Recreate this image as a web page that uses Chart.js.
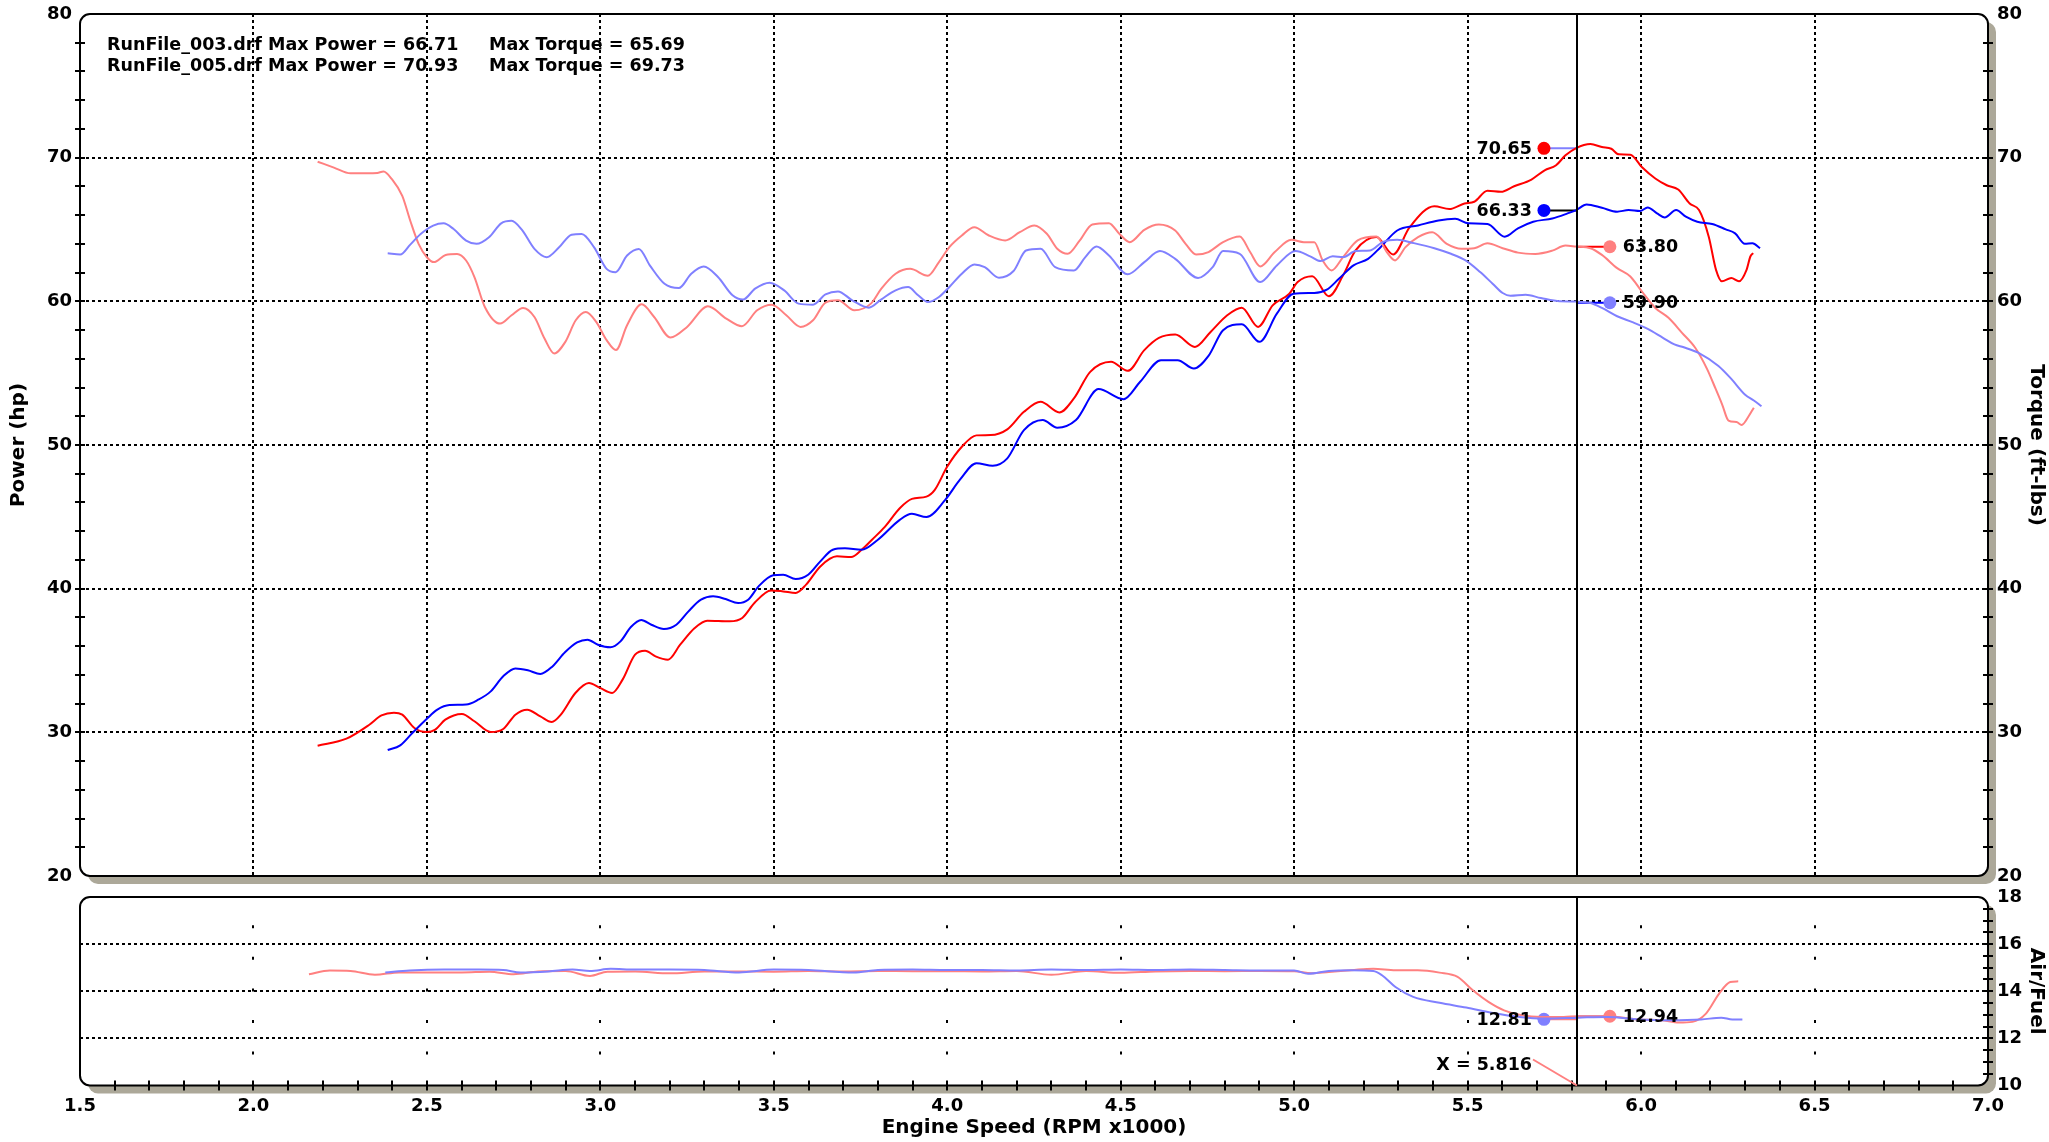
<!DOCTYPE html>
<html>
<head>
<meta charset="utf-8">
<script src="https://cdn.jsdelivr.net/npm/chart.js@4.4.1/dist/chart.umd.min.js"></script>
<style>
html,body{margin:0;padding:0;background:#fff;}
#wrap{position:relative;width:2049px;height:1142px;overflow:hidden;}
#wrap canvas{position:absolute;left:0;top:0;width:2049px;height:1142px;}
</style>
</head>
<body>
<div id="wrap">
<canvas id="mainChart" width="2049" height="1142"></canvas>
<canvas id="afrChart" width="2049" height="1142"></canvas>
</div>
<script>
// ---------------- DATA ----------------
const runNames = ['RunFile_003.drf', 'RunFile_005.drf'];
const maxPower = [66.71, 70.93];
const maxTorque = [65.69, 69.73];

const cursorRpm = 5.816;
const markerRpmLeft = 5.72;
const markerRpmRight = 5.91;
const cursorPower = [66.33, 70.65];   // 003, 005
const cursorTorque = [59.90, 63.80];  // 003, 005
const cursorAfr = [12.81, 12.94];     // 003, 005

const xTicks = {min: 1.5, max: 7.0, step: 0.5};
const powerAxis = {min: 20, max: 80, step: 10};
const afrAxis = {min: 10, max: 18, step: 2};

// RunFile_003 power (hp)
const rpm003Power = [2.387,2.423,2.458,2.500,2.530,2.565,2.613,2.648,2.684,2.720,2.755,2.791,2.827,2.862,2.898,2.933,2.963,2.993,3.029,3.058,3.088,3.118,3.147,3.183,3.219,3.254,3.290,3.325,3.361,3.397,3.426,3.456,3.498,3.527,3.563,3.599,3.634,3.670,3.705,3.753,3.800,3.863,3.898,3.940,3.994,4.036,4.084,4.131,4.173,4.221,4.275,4.317,4.371,4.436,4.508,4.556,4.616,4.664,4.711,4.753,4.795,4.849,4.900,4.950,4.998,5.058,5.094,5.129,5.171,5.213,5.249,5.297,5.357,5.416,5.464,5.502,5.557,5.607,5.645,5.689,5.744,5.788,5.813,5.843,5.887,5.931,5.964,5.997,6.019,6.046,6.068,6.101,6.129,6.162,6.205,6.244,6.271,6.299,6.321,6.343];
const power003 = [28.77,29.09,29.95,30.95,31.58,31.90,31.93,32.27,32.85,33.90,34.45,34.32,34.06,34.59,35.57,36.26,36.45,36.10,35.92,36.33,37.33,37.82,37.49,37.19,37.49,38.42,39.23,39.47,39.28,39.00,39.23,40.16,40.93,40.97,40.67,40.97,41.90,42.71,42.81,42.71,43.41,44.79,45.21,44.98,46.18,47.57,48.73,48.56,49.07,51.04,51.74,51.20,51.74,53.89,53.19,54.40,55.90,55.90,55.32,56.20,57.99,58.40,57.18,59.14,60.53,60.58,60.81,61.57,62.50,62.96,63.77,64.93,65.28,65.63,65.74,65.43,65.38,64.50,65.08,65.54,65.77,66.12,66.35,66.74,66.51,66.24,66.35,66.28,66.54,66.12,65.84,66.35,65.89,65.54,65.38,65.01,64.73,64.00,64.04,63.70];

// RunFile_005 power (hp)
const rpm005Power = [2.185,2.268,2.334,2.369,2.405,2.429,2.464,2.500,2.524,2.553,2.601,2.637,2.684,2.720,2.755,2.789,2.827,2.860,2.886,2.928,2.967,2.999,3.034,3.064,3.100,3.129,3.159,3.195,3.230,3.272,3.308,3.373,3.409,3.444,3.492,3.527,3.563,3.593,3.634,3.682,3.723,3.753,3.783,3.820,3.863,3.898,3.940,3.964,4.000,4.042,4.084,4.125,4.173,4.221,4.269,4.323,4.365,4.412,4.472,4.520,4.568,4.610,4.657,4.714,4.759,4.807,4.849,4.896,4.938,4.986,5.010,5.052,5.100,5.141,5.177,5.237,5.285,5.333,5.404,5.447,5.491,5.519,5.557,5.596,5.634,5.684,5.722,5.755,5.782,5.813,5.854,5.887,5.914,5.936,5.969,6.002,6.041,6.074,6.107,6.140,6.167,6.195,6.216,6.233,6.260,6.282,6.304,6.315,6.323];
const power005 = [29.07,29.56,30.53,31.18,31.37,31.23,30.30,30.02,30.19,30.88,31.28,30.77,30.02,30.23,31.23,31.58,31.11,30.72,31.23,32.74,33.43,33.09,32.74,33.67,35.41,35.68,35.29,35.06,36.10,37.26,37.77,37.73,37.96,39.00,39.88,39.81,39.70,40.28,41.55,42.25,42.20,42.71,43.41,44.30,45.60,46.25,46.41,46.88,48.50,49.88,50.67,50.69,51.09,52.31,53.01,52.27,53.24,55.09,55.79,55.16,56.60,57.45,57.69,56.83,57.87,59.03,59.56,58.22,59.72,60.53,61.34,61.74,60.35,61.81,63.54,64.47,63.26,65.16,66.62,66.42,66.81,66.93,67.69,67.62,68.01,68.48,69.12,69.47,70.16,70.67,70.95,70.74,70.62,70.23,70.21,69.35,68.55,68.08,67.78,66.81,66.35,64.50,62.19,61.39,61.62,61.39,62.19,63.12,63.35];

// RunFile_003 torque (ft-lbs)
const rpm003Torque = [2.387,2.423,2.452,2.482,2.518,2.548,2.577,2.613,2.643,2.679,2.714,2.744,2.774,2.810,2.845,2.881,2.917,2.946,2.982,3.018,3.044,3.077,3.111,3.143,3.185,3.226,3.262,3.298,3.339,3.381,3.411,3.446,3.488,3.530,3.571,3.613,3.649,3.685,3.726,3.774,3.810,3.851,3.887,3.916,3.944,3.976,4.006,4.042,4.078,4.108,4.149,4.191,4.227,4.269,4.311,4.365,4.398,4.430,4.466,4.520,4.568,4.613,4.657,4.723,4.765,4.795,4.843,4.902,4.950,5.004,5.046,5.076,5.111,5.141,5.177,5.219,5.255,5.297,5.345,5.404,5.452,5.494,5.536,5.572,5.601,5.623,5.667,5.711,5.766,5.813,5.854,5.887,5.931,5.975,6.019,6.063,6.096,6.123,6.167,6.223,6.260,6.300,6.325,6.347];
const torque003 = [63.35,63.26,63.95,64.69,65.27,65.43,65.03,64.23,64.00,64.46,65.43,65.61,64.97,63.65,63.07,63.76,64.64,64.69,63.76,62.26,62.03,63.19,63.65,62.49,61.22,60.92,61.92,62.42,61.69,60.42,60.12,60.88,61.29,60.76,59.84,59.77,60.48,60.69,60.07,59.56,60.14,60.76,60.99,60.42,59.95,60.30,61.00,61.92,62.57,62.38,61.64,62.11,63.54,63.66,62.38,62.15,63.08,63.82,63.19,61.88,62.73,63.50,62.96,61.62,62.38,63.50,63.31,61.34,62.50,63.50,63.13,62.80,63.13,63.08,63.50,63.54,64.12,64.28,64.05,63.70,63.31,62.85,62.04,61.23,60.58,60.39,60.46,60.23,60.00,59.98,59.88,59.54,58.96,58.55,58.08,57.46,57.00,56.80,56.40,55.50,54.60,53.50,53.10,52.70];

// RunFile_005 torque (ft-lbs)
const rpm005Torque = [2.185,2.232,2.280,2.327,2.357,2.375,2.399,2.429,2.452,2.476,2.500,2.520,2.554,2.587,2.613,2.637,2.667,2.711,2.744,2.777,2.810,2.839,2.867,2.899,2.929,2.958,2.988,3.018,3.045,3.077,3.119,3.155,3.202,3.250,3.310,3.363,3.408,3.452,3.494,3.536,3.577,3.613,3.649,3.685,3.732,3.780,3.810,3.851,3.893,3.944,3.976,4.006,4.042,4.078,4.120,4.167,4.209,4.251,4.287,4.317,4.347,4.382,4.418,4.466,4.496,4.526,4.568,4.610,4.657,4.687,4.717,4.753,4.795,4.843,4.873,4.902,4.944,4.992,5.028,5.058,5.082,5.108,5.141,5.183,5.237,5.267,5.291,5.321,5.357,5.398,5.440,5.482,5.519,5.557,5.601,5.645,5.695,5.744,5.782,5.813,5.854,5.887,5.931,5.969,6.002,6.041,6.079,6.118,6.156,6.190,6.215,6.234,6.252,6.275,6.290,6.310,6.325];
const torque005 = [69.72,69.31,68.91,68.91,68.94,69.03,68.50,67.34,65.61,64.00,63.07,62.73,63.23,63.30,62.84,61.69,59.61,58.45,59.03,59.54,58.91,57.41,56.37,57.18,58.68,59.26,58.57,57.30,56.61,58.34,59.79,58.91,57.48,58.22,59.65,58.80,58.27,59.38,59.77,59.03,58.22,58.68,59.91,60.07,59.38,59.84,60.88,61.92,62.26,61.78,62.73,63.77,64.58,65.16,64.58,64.24,64.81,65.28,64.70,63.66,63.31,64.24,65.35,65.44,64.70,64.12,64.98,65.35,64.93,64.00,63.26,63.43,64.12,64.51,63.43,62.43,63.43,64.28,64.12,64.12,62.85,62.15,63.08,64.24,64.51,63.43,62.85,63.77,64.47,64.81,64.00,63.66,63.70,64.04,63.70,63.39,63.30,63.53,63.88,63.81,63.70,63.23,62.31,61.73,60.69,59.54,58.85,57.81,56.77,55.30,53.90,52.80,51.70,51.60,51.40,52.00,52.60];

// RunFile_003 air/fuel
const rpm003Afr = [2.38,2.45,2.55,2.65,2.72,2.77,2.85,2.92,2.97,3.03,3.10,3.20,3.30,3.40,3.50,3.60,3.73,3.80,3.90,4.00,4.10,4.20,4.30,4.40,4.50,4.60,4.70,4.80,4.90,5.00,5.04,5.10,5.164,5.228,5.253,5.292,5.343,5.419,5.496,5.573,5.650,5.720,5.818,5.904,5.994,6.083,6.173,6.231,6.263,6.292];
const afr003 = [14.80,14.88,14.92,14.92,14.90,14.80,14.84,14.92,14.86,14.95,14.92,14.92,14.90,14.80,14.92,14.90,14.80,14.90,14.92,14.90,14.90,14.88,14.92,14.90,14.92,14.90,14.92,14.90,14.88,14.88,14.74,14.86,14.89,14.86,14.68,14.18,13.76,13.51,13.31,13.08,12.91,12.84,12.88,12.91,12.80,12.77,12.80,12.88,12.80,12.80];

// RunFile_005 air/fuel
const rpm005Afr = [2.16,2.22,2.28,2.35,2.42,2.50,2.60,2.68,2.75,2.82,2.90,2.97,3.02,3.10,3.20,3.30,3.40,3.50,3.60,3.70,3.80,3.90,4.00,4.10,4.20,4.30,4.40,4.50,4.60,4.70,4.80,4.90,5.00,5.05,5.10,5.164,5.228,5.292,5.356,5.419,5.471,5.515,5.560,5.605,5.656,5.714,5.777,5.818,5.904,5.994,6.058,6.109,6.148,6.187,6.225,6.257,6.280];
const afr005 = [14.72,14.88,14.86,14.70,14.80,14.80,14.80,14.83,14.72,14.84,14.86,14.65,14.83,14.84,14.76,14.84,14.84,14.83,14.86,14.84,14.86,14.85,14.85,14.84,14.86,14.70,14.86,14.78,14.84,14.86,14.85,14.86,14.85,14.76,14.82,14.89,14.96,14.89,14.89,14.79,14.61,14.04,13.55,13.19,12.98,12.91,12.91,12.94,12.94,12.80,12.77,12.67,12.70,13.05,13.90,14.39,14.42];

// ---------------- STYLE ----------------
const FONT = '"DejaVu Sans", Verdana, sans-serif';
const SHADOW = '#aca899';
const RED = '#ff0000', BLUE = '#0000ff', LRED = '#ff8080', LBLUE = '#8080ff';

function pts(xs, ys) { return xs.map((x, i) => ({x: x, y: ys[i]})); }

function rr(ctx, x, y, w, h, r) {
  ctx.beginPath();
  ctx.moveTo(x + r, y);
  ctx.arcTo(x + w, y, x + w, y + h, r);
  ctx.arcTo(x + w, y + h, x, y + h, r);
  ctx.arcTo(x, y + h, x, y, r);
  ctx.arcTo(x, y, x + w, y, r);
  ctx.closePath();
}

function curve(label, xs, ys, color, yAxisID) {
  return {label, data: pts(xs, ys), borderColor: color, borderWidth: 2,
    pointRadius: 0, cubicInterpolationMode: 'monotone', fill: false, yAxisID};
}

function marker(value, side, dotColor, linkColor, yAxisID) {
  const mx = side === 'left' ? markerRpmLeft : markerRpmRight;
  return {data: [{x: mx, y: value}, {x: cursorRpm, y: value}], borderColor: linkColor,
    borderWidth: 2, pointRadius: [6.5, 0], pointBackgroundColor: dotColor,
    pointBorderWidth: 0, pointBorderColor: dotColor, tension: 0, fill: false,
    yAxisID, markerLabel: value.toFixed(2), markerSide: side};
}

const framePlugin = {
  id: 'frame',
  beforeDraw(chart) {
    const a = chart.chartArea, ctx = chart.ctx;
    const w = a.right - a.left, h = a.bottom - a.top;
    ctx.save();
    ctx.fillStyle = SHADOW; rr(ctx, a.left + 8, a.top + 8, w, h, 10); ctx.fill();
    ctx.fillStyle = '#fff'; rr(ctx, a.left, a.top, w, h, 10); ctx.fill();
    ctx.restore();
  },
  afterDatasetsDraw(chart, args, opts) {
    const a = chart.chartArea, ctx = chart.ctx;
    const w = a.right - a.left, h = a.bottom - a.top;
    ctx.save();
    // cursor line
    const cx = Math.round(chart.scales.x.getPixelForValue(cursorRpm));
    ctx.strokeStyle = '#000'; ctx.lineWidth = 2;
    ctx.beginPath(); ctx.moveTo(cx, a.top); ctx.lineTo(cx, a.bottom); ctx.stroke();
    // frame
    rr(ctx, a.left, a.top, w, h, 10); ctx.lineWidth = 2; ctx.stroke();
    // minor ticks
    ctx.lineWidth = 2;
    (opts.ticks || []).forEach(t => {
      const sc = chart.scales[t.scale];
      for (let v = t.from; v <= t.to + 1e-9; v += t.step) {
        const p = Math.round(sc.getPixelForValue(v));
        ctx.beginPath();
        if (t.edge === 'left') { ctx.moveTo(a.left - 5, p); ctx.lineTo(a.left + 5, p); }
        else if (t.edge === 'right') { ctx.moveTo(a.right - 5, p); ctx.lineTo(a.right + 5, p); }
        else { ctx.moveTo(p, a.bottom - 5); ctx.lineTo(p, a.bottom + 5); }
        ctx.stroke();
      }
    });
    // marker labels
    ctx.fillStyle = '#000';
    ctx.font = 'bold 17.5px ' + FONT;
    ctx.textBaseline = 'middle';
    chart.data.datasets.forEach((ds, i) => {
      if (!ds.markerLabel) return;
      const p = chart.getDatasetMeta(i).data[0];
      if (ds.markerSide === 'left') { ctx.textAlign = 'right'; ctx.fillText(ds.markerLabel, p.x - 12, p.y + 1); }
      else { ctx.textAlign = 'left'; ctx.fillText(ds.markerLabel, p.x + 13, p.y + 1); }
    });
    if (opts.extra) opts.extra(chart, ctx, cx);
    ctx.restore();
  }
};

const tickFont = {family: FONT, size: 18, weight: 'bold'};
const titleFont = {family: FONT, size: 20, weight: 'bold'};
function gridColor(lo, hi) {
  return c => (c.tick && (Math.abs(c.tick.value - lo) < 1e-6 || Math.abs(c.tick.value - hi) < 1e-6)) ? 'rgba(0,0,0,0)' : '#000';
}
function fixV(width) {
  return s => { s.width = width; s.paddingTop = 0; s.paddingBottom = 0; };
}
function fixH(height) {
  return s => { s.height = height; s.paddingLeft = 0; s.paddingRight = 0; };
}

// ---------------- MAIN CHART ----------------
new Chart(document.getElementById('mainChart'), {
  type: 'line',
  data: {
    datasets: [
      curve('RunFile_003 Torque', rpm003Torque, torque003, LBLUE, 'y'),
      curve('RunFile_005 Torque', rpm005Torque, torque005, LRED, 'y'),
      curve('RunFile_003 Power', rpm003Power, power003, BLUE, 'y'),
      curve('RunFile_005 Power', rpm005Power, power005, RED, 'y'),
      marker(cursorPower[1], 'left', RED, LBLUE, 'y'),
      marker(cursorPower[0], 'left', BLUE, '#000', 'y'),
      marker(cursorTorque[1], 'right', LRED, RED, 'y'),
      marker(cursorTorque[0], 'right', LBLUE, BLUE, 'y')
    ]
  },
  options: {
    responsive: false, animation: false, devicePixelRatio: 1,
    layout: {padding: {top: 14, left: 0, right: 0, bottom: 0}},
    plugins: {
      legend: {display: false}, tooltip: {enabled: false},
      frame: {
        ticks: [
          {scale: 'y', edge: 'left', from: 22, to: 78, step: 2},
          {scale: 'y', edge: 'right', from: 22, to: 78, step: 2}
        ],
        extra: (chart, ctx) => {
          ctx.font = 'bold 17.5px ' + FONT;
          ctx.textAlign = 'left'; ctx.textBaseline = 'middle'; ctx.fillStyle = '#000';
          const ys = [45, 66];
          for (let i = 0; i < 2; i++) {
            ctx.fillText(runNames[i] + ' Max Power = ' + maxPower[i].toFixed(2), 107, ys[i]);
            ctx.fillText('Max Torque = ' + maxTorque[i].toFixed(2), 489, ys[i]);
          }
        }
      }
    },
    scales: {
      x: {type: 'linear', min: xTicks.min, max: xTicks.max,
        afterFit: fixH(1142 - 876),
        ticks: {display: false, stepSize: xTicks.step},
        grid: {color: gridColor(xTicks.min, xTicks.max), lineWidth: 2, drawTicks: false},
        border: {display: false, dash: [3, 3]}},
      y: {position: 'left', min: powerAxis.min, max: powerAxis.max,
        afterFit: fixV(80),
        ticks: {stepSize: powerAxis.step, padding: 8, font: tickFont, color: '#000'},
        grid: {color: gridColor(powerAxis.min, powerAxis.max), lineWidth: 2, drawTicks: false},
        border: {display: false, dash: [3, 3]},
        title: {display: true, text: 'Power (hp)', font: titleFont, color: '#000', padding: {top: 7, bottom: 0}}},
      y2: {position: 'right', min: powerAxis.min, max: powerAxis.max,
        afterFit: fixV(61),
        ticks: {stepSize: powerAxis.step, padding: 9, font: tickFont, color: '#000'},
        grid: {drawOnChartArea: false, drawTicks: false},
        border: {display: false},
        title: {display: true, text: 'Torque (ft-lbs)', font: titleFont, color: '#000', padding: {top: 1, bottom: 0}}}
    }
  },
  plugins: [framePlugin]
});

// ---------------- AIR/FUEL CHART ----------------
new Chart(document.getElementById('afrChart'), {
  type: 'line',
  data: {
    datasets: [
      curve('RunFile_003 Air/Fuel', rpm003Afr, afr003, LBLUE, 'afr'),
      curve('RunFile_005 Air/Fuel', rpm005Afr, afr005, LRED, 'afr'),
      marker(cursorAfr[0], 'left', LBLUE, LRED, 'afr'),
      marker(cursorAfr[1], 'right', LRED, LBLUE, 'afr')
    ]
  },
  options: {
    responsive: false, animation: false, devicePixelRatio: 1,
    layout: {padding: {top: 897, left: 80, right: 0, bottom: 0}},
    plugins: {
      legend: {display: false}, tooltip: {enabled: false},
      frame: {
        ticks: [
          {scale: 'x', edge: 'bottom', from: 1.6, to: 6.9, step: 0.1},
          {scale: 'afr', edge: 'right', from: 10.5, to: 17.5, step: 0.5}
        ],
        extra: (chart, ctx, cx) => {
          const a = chart.chartArea;
          ctx.strokeStyle = LRED; ctx.lineWidth = 2;
          ctx.beginPath(); ctx.moveTo(cx - 44, a.bottom - 26); ctx.lineTo(cx, a.bottom); ctx.stroke();
          ctx.fillStyle = '#000'; ctx.font = 'bold 17.5px ' + FONT;
          ctx.textAlign = 'right'; ctx.textBaseline = 'middle';
          ctx.fillText('X = ' + cursorRpm.toFixed(3), cx - 45, a.bottom - 20);
        }
      }
    },
    scales: {
      x: {type: 'linear', min: xTicks.min, max: xTicks.max,
        afterFit: fixH(1142 - 1085.5),
        ticks: {stepSize: xTicks.step, padding: 10, font: tickFont, color: '#000', maxRotation: 0, autoSkip: false,
          callback: v => Number(v).toFixed(1)},
        grid: {color: gridColor(xTicks.min, xTicks.max), lineWidth: 2, drawTicks: false},
        border: {display: false, dash: [3, 28.6], dashOffset: 3.4},
        title: {display: true, text: 'Engine Speed (RPM x1000)', font: titleFont, color: '#000', padding: {top: 0, bottom: 2}}},
      afr: {position: 'right', min: afrAxis.min, max: afrAxis.max,
        afterFit: fixV(61),
        ticks: {stepSize: afrAxis.step, padding: 9, font: tickFont, color: '#000'},
        grid: {color: gridColor(afrAxis.min, afrAxis.max), lineWidth: 2, drawTicks: false},
        border: {display: false, dash: [3, 3]},
        title: {display: true, text: 'Air/Fuel', font: titleFont, color: '#000', padding: {top: 1, bottom: 0}}}
    }
  },
  plugins: [framePlugin]
});
</script>
</body>
</html>
